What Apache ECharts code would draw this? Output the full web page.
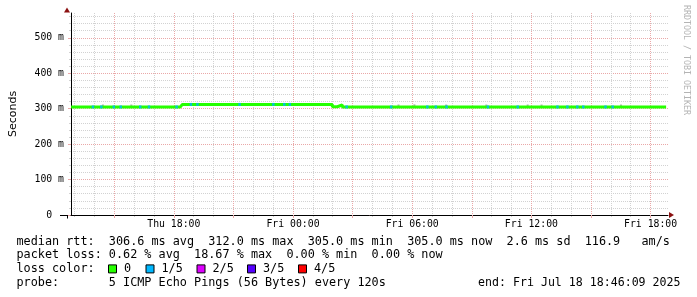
<!DOCTYPE html>
<html><head><meta charset="utf-8">
<script src="https://cdn.jsdelivr.net/npm/echarts@6/dist/echarts.min.js"></script>
<style>html,body{margin:0;padding:0;background:#fff}#c{width:697px;height:297px}</style>
</head><body><div id="c"></div>
<script>
// times: hours since Thu Jul 17 2025 00:00
const medianTimes = [12.83, 18.33, 18.43, 25.98, 26.23, 26.48, 29.61, 29.66, 31.51, 31.56, 32.59, 32.64, 42.78];
const medianRtt   = [305, 308.5, 312, 305.5, 311, 305, 307.5, 305, 307.5, 305, 307.5, 305, 305];

const lossTimes = [13.93, 14.35, 14.98, 15.33, 16.31, 16.75, 18.14, 18.86, 19.19, 21.31, 23.01, 23.56, 23.84,
                   26.70, 28.94, 30.76, 31.19, 31.73, 33.81, 35.31, 37.31, 37.81, 38.31, 38.61, 39.73, 40.09];
const lossRtt   = [305, 305, 305, 305, 305, 305, 305, 312, 312, 312, 312, 312, 312,
                   305, 305, 305, 305, 305, 305, 305, 305, 305, 305, 305, 305, 305];
const lossCount = [1, 1, 1, 1, 1, 1, 1, 1, 1, 1, 1, 1, 1, 1, 1, 1, 1, 1, 1, 1, 1, 1, 1, 1, 1, 1];

const smokeTimes = [14.43, 15.86, 29.31, 30.11, 31.71, 33.73, 35.81, 36.51, 40.51];
const smokeRtt   = [309, 309, 309, 309.5, 309, 309, 309, 309, 309];

const xMajorHours = [15, 18, 21, 24, 27, 30, 33, 36, 39, 42];
const xMinorHours = [13, 14, 16, 17, 19, 20, 22, 23, 25, 26, 28, 29, 31, 32, 34, 35, 37, 38, 40, 41];
const xLabelHours = [18, 24, 30, 36, 42];
const xLabelTexts = ['Thu 18:00', 'Fri 00:00', 'Fri 06:00', 'Fri 12:00', 'Fri 18:00'];
const yTickValues = [0, 100, 200, 300, 400, 500];
const yTickLabels = ['0  ', '100 m', '200 m', '300 m', '400 m', '500 m'];

const lossLegendLabels = ['0', '1/5', '2/5', '3/5', '4/5'];
const lossColors = ['#26ff00', '#00b8ff', '#dd00ff', '#5500ff', '#ff0000'];

const statRow1 = 'median rtt:  306.6 ms avg  312.0 ms max  305.0 ms min  305.0 ms now  2.6 ms sd  116.9   am/s';
const statRow2 = 'packet loss: 0.62 % avg  18.67 % max  0.00 % min  0.00 % now';
const statRow3 = 'loss color:';
const statRow4 = 'probe:       5 ICMP Echo Pings (56 Bytes) every 120s';
const endText  = 'end: Fri Jul 18 18:46:09 2025';
const sideText = 'RRDTOOL / TOBI OETIKER';

const X_MIN = 12.825, X_MAX = 42.875;
const MONO = '"DejaVu Sans Mono", monospace';
const RED_GRID = '#eaa8a8', GRAY_GRID = '#d2d2d2';

const chart = echarts.init(document.getElementById('c'), null, {renderer: 'canvas'});

const medianData = medianTimes.map((t, i) => [t, medianRtt[i]]);
const lossData = lossTimes.map((t, i) => ({value: [t, lossRtt[i]], itemStyle: {color: lossColors[lossCount[i]]}}));
const smokeData = smokeTimes.map((t, i) => [t, smokeRtt[i]]);

function findLabel(v, vals, texts) {
  for (let i = 0; i < vals.length; i++) if (Math.abs(vals[i] - v) < 1e-6) return texts[i];
  return '';
}

const textEl = (x, y, text, size, align) => ({
  type: 'text', x: x, y: y, silent: true,
  style: {text: text, fill: '#000', font: size + 'px ' + MONO, align: align || 'left', verticalAlign: 'middle'}
});

const rowY = [241.5, 255.2, 268.9, 282.6];
const sqX = [108.5, 146, 197, 247.5, 298.5];
const graphics = [
  textEl(16.5, rowY[0], statRow1, 11.8),
  textEl(16.5, rowY[1], statRow2, 11.8),
  textEl(16.5, rowY[2], statRow3, 11.8),
  textEl(16.5, rowY[3], statRow4, 11.8),
  textEl(680.5, rowY[3], endText, 11.6, 'right'),
  {type: 'text', x: 686, y: 60, rotation: -Math.PI / 2, silent: true,
   style: {text: sideText, fill: '#b4b4b4', font: '8.3px ' + MONO, align: 'center', verticalAlign: 'middle'}},
  {type: 'polygon', silent: true, shape: {points: [[64, 12.5], [70, 12.5], [67, 7.5]]}, style: {fill: '#8b1010'}},
  {type: 'polygon', silent: true, shape: {points: [[669, 212], [669, 218], [674, 215]]}, style: {fill: '#8b1010'}},
  {type: 'line', silent: true, shape: {x1: 60, y1: 215.5, x2: 67, y2: 215.5}, style: {stroke: '#000', lineWidth: 1}},
  {type: 'line', silent: true, shape: {x1: 67.5, y1: 215, x2: 67.5, y2: 218.5}, style: {stroke: '#000', lineWidth: 1}}
];
lossLegendLabels.forEach((lab, i) => {
  graphics.push({type: 'rect', silent: true, shape: {x: sqX[i], y: rowY[2] - 4, width: 8, height: 8},
    style: {fill: lossColors[i], stroke: '#000', lineWidth: 1}});
  graphics.push(textEl(sqX[i] + 15.5, rowY[2], lab, 11.8));
});

const option = {
  backgroundColor: '#fff',
  animation: false,
  grid: {left: 67, right: 29, top: 13, bottom: 82, containLabel: false},
  xAxis: [
    {
      type: 'value', min: X_MIN, max: X_MAX,
      axisLine: {show: true, onZero: false, lineStyle: {color: '#000', width: 1}},
      axisTick: {show: true, length: 3, customValues: xMajorHours, lineStyle: {color: RED_GRID}},
      axisLabel: {show: true, customValues: xLabelHours, margin: 4,
        formatter: v => findLabel(v, xLabelHours, xLabelTexts),
        fontFamily: MONO, fontSize: 9.8, color: '#000'},
      splitLine: {show: true, lineStyle: {color: RED_GRID, type: [1, 1], width: 1}},
      z: 3
    },
    {
      type: 'value', min: X_MIN, max: X_MAX, position: 'bottom',
      axisLine: {show: false, onZero: false},
      axisTick: {show: true, length: 2, customValues: xMinorHours, lineStyle: {color: GRAY_GRID}},
      axisLabel: {show: false, customValues: xMinorHours},
      splitLine: {show: true, lineStyle: {color: GRAY_GRID, type: [1, 1], width: 1}},
      z: 2
    }
  ],
  yAxis: {
    type: 'value', min: 0, max: 570, interval: 100,
    name: 'Seconds', nameLocation: 'middle', nameGap: 52, nameRotate: 90,
    nameTextStyle: {fontFamily: '"DejaVu Sans", sans-serif', fontSize: 11, color: '#000'},
    axisLine: {show: true, onZero: false, lineStyle: {color: '#000', width: 1}},
    axisTick: {show: true, length: 3, customValues: yTickValues, lineStyle: {color: RED_GRID}},
    minorTick: {show: true, splitNumber: 5, length: 2, lineStyle: {color: GRAY_GRID}},
    axisLabel: {customValues: yTickValues, margin: 7,
      formatter: v => findLabel(v, yTickValues, yTickLabels),
      fontFamily: MONO, fontSize: 9.8, color: '#000'},
    splitLine: {show: true, lineStyle: {color: RED_GRID, type: [1, 1], width: 1}},
    minorSplitLine: {show: true, lineStyle: {color: GRAY_GRID, type: [1, 1], width: 1}}
  },
  series: [
    {
      type: 'scatter', name: 'smoke', data: smokeData, symbol: 'rect', symbolSize: [2, 2],
      itemStyle: {color: '#a0a0a0'}, silent: true, z: 2
    },
    {
      type: 'line', name: 'median', data: medianData, step: 'end', showSymbol: false,
      lineStyle: {color: lossColors[0], width: 3}, silent: true, z: 3
    },
    {
      type: 'scatter', name: 'loss', data: lossData, symbol: 'rect', symbolSize: [2.5, 3],
      silent: true, z: 4
    }
  ],
  graphic: graphics
};
chart.setOption(option);
</script>
</body></html>
